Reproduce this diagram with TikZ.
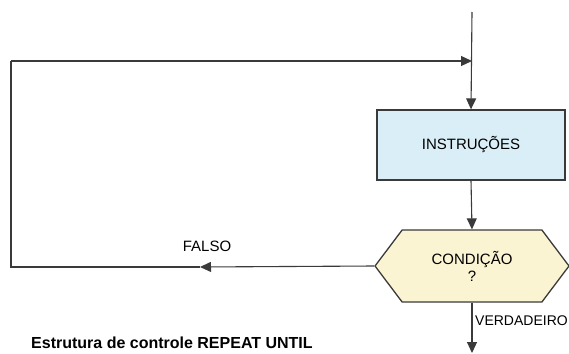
\documentclass[tikz,border=0pt]{standalone}
\usepackage{fontspec}
\setmainfont{Liberation Sans}
\usetikzlibrary{positioning,arrows.meta,shapes.symbols}
\tikzset{>={Triangle[length=11pt,width=10pt]}}
\definecolor{instrblue}{HTML}{D9EEF6}
\definecolor{condyellow}{HTML}{FBF4D2}
\definecolor{linegray}{HTML}{3A3A3A}
\tikzset{
  flow/.style={draw=linegray,line width=1.1pt},
  instrbox/.style={draw=linegray,fill=instrblue,line width=1.3pt,minimum width=188,minimum height=70},
  condbox/.style={signal,signal to=west and east,signal pointer angle=106,draw=linegray,fill=condyellow,line width=1.3pt,minimum width=194,minimum height=72,align=center,inner sep=2pt}
}

\begin{document}
\begin{tikzpicture}[x=1pt,y=-1pt,font=\fontsize{15}{17}\selectfont]
\useasboundingbox (0,0) rectangle (569,353);
\coordinate (start) at (472,12);
\coordinate (merge) at (472,61);
\coordinate (loop-top) at (11,61);
\coordinate (loop-bot) at (11,267);
\coordinate (falso-tip) at (200,267);
\coordinate (end) at (472,353);
\node[instrbox] (instr) at (471,145) {INSTRUÇÕES};
\node[condbox] (cond) at (472,266) {CONDIÇÃO\\?};
% main line
\draw[flow,->] (start) -- (instr.north);
\draw[flow,->] (instr.south) -- (cond.north);
\draw[flow,->] (cond.south) -- (end);
% loop back
\draw[flow,->] (cond.west) -- (falso-tip);
\draw[flow] (falso-tip) -- (loop-bot) -- (loop-top);
\draw[flow,->] (loop-top) -- (merge);
\node (falso) at (207,246) {FALSO};
\node[anchor=west,inner sep=0pt,font=\fontsize{14}{16}\selectfont] (verdadeiro) at (475,321) {VERDADEIRO};
\node[anchor=base west,inner sep=0pt,font=\fontsize{16}{18}\selectfont\bfseries] (caption) at (31,348) {Estrutura de controle REPEAT UNTIL};
\end{tikzpicture}
\end{document}
